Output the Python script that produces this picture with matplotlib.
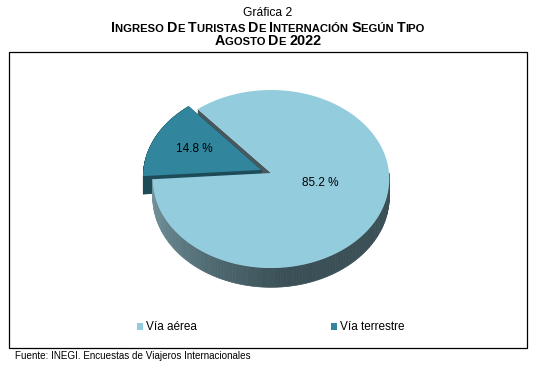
import numpy as np
import matplotlib.pyplot as plt
from matplotlib.patches import Polygon, Rectangle, Patch

plt.rcParams['font.family'] = ['Liberation Sans', 'DejaVu Sans']

# ---------- Datos ----------
categorias = ['Vía aérea', 'Vía terrestre']
porcentajes = [85.2, 14.8]
colores_top = ['#93cddd', '#31859c']
color_lado_chico = '#1d4b58'
color_cara_grande = '#47595e'

G, P = 10.3, 8.1   # tamanos de versalitas (mayuscula / minuscula)
titulo = 'Gráfica 2'
subtitulo = [('I', G), ('NGRESO ', P), ('D', G), ('E ', P), ('T', G), ('URISTAS ', P),
             ('D', G), ('E ', P), ('I', G), ('NTERNACIÓN ', P), ('S', G), ('EGÚN ', P),
             ('T', G), ('IPO', P)]
periodo = [('A', G), ('GOSTO ', P), ('D', G), ('E ', P), ('2022', 10.4)]
fuente = 'Fuente: INEGI. Encuestas de Viajeros Internacionales'

W, H = 534, 370
fig = plt.figure(figsize=(W / 100, H / 100), dpi=100)
ax = fig.add_axes([0, 0, 1, 1])
ax.set_xlim(0, W)
ax.set_ylim(H, 0)
ax.axis('off')

# ---------- geometria del pastel 3D (pixeles) ----------
CX, CY = 271, 173
R, S, E = 118, 88.6, 0.0674
DEPTH = 18
START = 184
EXPLODE = 0.09


def proj(u, v, z=0.0):
    w = 1 + E * v
    return np.column_stack([CX + R * u / w, CY - S * v / w + z / w])


def wedge_pts(t1, t2, off=(0, 0), z=0.0, n=150):
    t = np.radians(np.linspace(t1, t2, n))
    u = np.concatenate([[off[0]], off[0] + np.cos(t)])
    v = np.concatenate([[off[1]], off[1] + np.sin(t)])
    return proj(u, v, z)


fracs = np.array(porcentajes) / sum(porcentajes)
bordes = START + 360 * np.concatenate([[0], np.cumsum(fracs)])
a1, a2 = bordes[0], bordes[1]        # via aerea
b1, b2 = bordes[1], bordes[2]        # via terrestre
mid_b = np.radians((b1 + b2) / 2)
off_b = (EXPLODE * np.cos(mid_b), EXPLODE * np.sin(mid_b))

# cara radial de la rebanada grande (visible en el hueco)
tb = np.radians(a2)
p = proj(np.array([0, np.cos(tb)]), np.array([0, np.sin(tb)]))
pb = proj(np.array([0, np.cos(tb)]), np.array([0, np.sin(tb)]), DEPTH)
ax.add_patch(Polygon(np.vstack([p, pb[::-1]]), closed=True, fc=color_cara_grande, ec='none'))

# extrusion de la rebanada chica
top_b = wedge_pts(b1, b2, off_b)
bot_b = wedge_pts(b1, b2, off_b, DEPTH)
ax.add_patch(Polygon(bot_b, closed=True, fc=color_lado_chico, ec='none'))
for i in range(len(top_b)):
    j = (i + 1) % len(top_b)
    quad = np.array([top_b[i], top_b[j], bot_b[j], bot_b[i]])
    ax.add_patch(Polygon(quad, closed=True, fc=color_lado_chico, ec=color_lado_chico, lw=0.3))
ax.add_patch(Polygon(top_b, closed=True, fc=colores_top[1], ec='none'))

# lado curvo de la rebanada grande con degradado
claro = np.array([118, 152, 162]) / 255
oscuro = np.array([58, 80, 86]) / 255
ts = np.linspace(a1, 360, 120)
for k in range(len(ts) - 1):
    t = np.radians(ts[k:k + 2])
    up = proj(np.cos(t), np.sin(t))
    dn = proj(np.cos(t), np.sin(t), DEPTH)
    f = np.clip((np.cos(t[0]) + 1) / 1.1, 0, 1) ** 0.6
    c = claro + (oscuro - claro) * f
    ax.add_patch(Polygon(np.vstack([up, dn[::-1]]), closed=True, fc=c, ec=c, lw=0.5))

ax.add_patch(Polygon(wedge_pts(a1, a2), closed=True, fc=colores_top[0], ec='none'))

# etiquetas de porcentaje
mid_a = np.radians((a1 + a2) / 2)
pa = proj(np.array([0.45 * np.cos(mid_a)]), np.array([0.45 * np.sin(mid_a) + 0.06]))[0]
pbl = proj(np.array([off_b[0] + 0.63 * np.cos(mid_b)]), np.array([off_b[1] + 0.63 * np.sin(mid_b)]))[0]
ax.text(pa[0], pa[1], f'{porcentajes[0]:.1f} %', fontsize=8.5, ha='center', va='center')
ax.text(pbl[0], pbl[1], f'{porcentajes[1]:.1f} %', fontsize=8.5, ha='center', va='center')

# leyenda
handles = [Patch(fc=c, ec='none') for c in colores_top]
ax.legend(handles, categorias, loc='center', bbox_to_anchor=(0.507, 0.115), ncol=2,
          frameon=False, fontsize=8.5, handlelength=0.55, handleheight=0.55,
          handletextpad=0.25, columnspacing=11.3)

# marco
ax.add_patch(Rectangle((9, 52), 518, 296, fill=False, ec='black', lw=0.9))

# titulos
ax.text(268, 16, titulo, fontsize=8.7, ha='center', va='baseline')
r = fig.canvas.get_renderer()


def linea_versalitas(y, partes, xc=268):
    objs = [ax.text(0, y, t, fontsize=s, fontweight='bold', va='baseline', ha='left')
            for t, s in partes]
    anchos = [o.get_window_extent(r).width for o in objs]
    x = xc - sum(anchos) / 2
    for o, w in zip(objs, anchos):
        o.set_x(x)
        x += w


linea_versalitas(32, subtitulo)
linea_versalitas(45, periodo)

ax.text(15, 359, fuente, fontsize=7.15, ha='left', va='baseline')

fig.savefig('out.png', dpi=100)
